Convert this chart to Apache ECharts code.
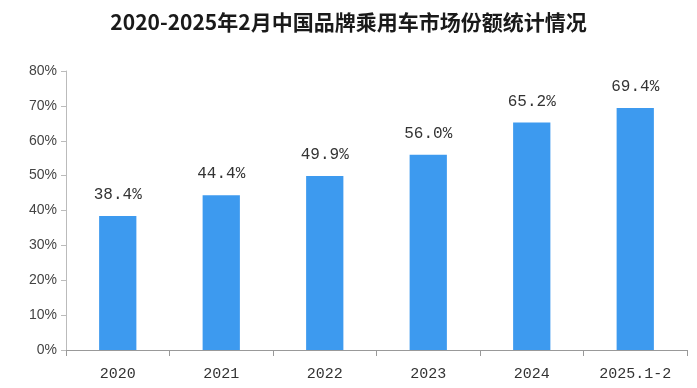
<!DOCTYPE html>
<html><head><meta charset="utf-8">
<script src="https://cdn.jsdelivr.net/npm/echarts@6/dist/echarts.min.js"></script>
<style>html,body{margin:0;padding:0;background:#fff}#c{width:697px;height:388px}</style>
</head><body><div id="c"></div>
<script>
const title = '2020-2025年2月中国品牌乘用车市场份额统计情况';
const categories = ['2020','2021','2022','2023','2024','2025.1-2'];
const shareValues = [38.4, 44.4, 49.9, 56.0, 65.2, 69.4];
const yTicks = [0,10,20,30,40,50,60,70,80];

const chart = echarts.init(document.getElementById('c'));
chart.setOption({
  animation:false,
  title:{text:title,left:'center',top:7,textStyle:{fontFamily:'Noto Sans CJK SC',fontWeight:'bold',fontSize:21,color:'#1a1a1a'}},
  grid:{left:66,right:10,top:71,bottom:38},
  xAxis:{type:'category',data:categories,
    axisLine:{lineStyle:{color:'#999'}},
    axisTick:{show:true,length:6,lineStyle:{color:'#999'}},
    axisLabel:{color:'#333',fontSize:15,fontFamily:'Liberation Mono',margin:17}},
  yAxis:{type:'value',min:yTicks[0],max:yTicks[yTicks.length-1],interval:10,
    axisLine:{show:true,lineStyle:{color:'#bbb'}},
    axisTick:{show:true,length:5,lineStyle:{color:'#bbb'}},
    splitLine:{show:false},
    axisLabel:{color:'#444',fontSize:14,fontFamily:'Liberation Sans',margin:9,formatter:v=>v+'%'}},
  series:[{type:'bar',data:shareValues,barWidth:'36%',
    itemStyle:{color:'#3d9aef'},
    label:{show:true,position:'top',distance:13,color:'#333',fontSize:16,fontFamily:'Liberation Mono',
      formatter:p=>p.value.toFixed(1)+'%'}}]
});
</script></body></html>
